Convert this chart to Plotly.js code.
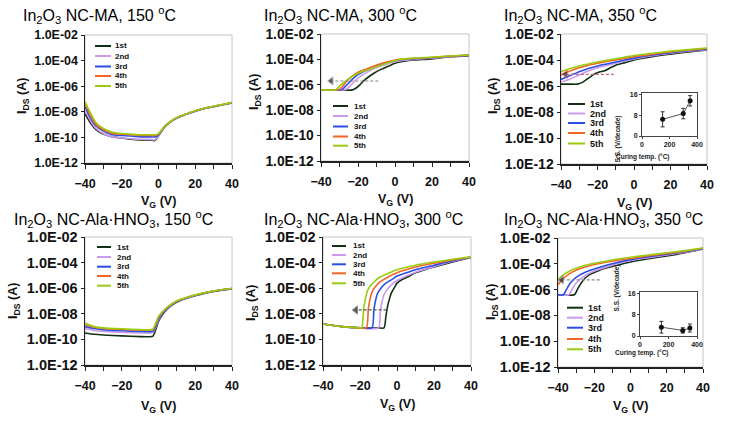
<!DOCTYPE html>
<html><head><meta charset="utf-8">
<script src="https://cdn.plot.ly/plotly-3.0.1.min.js"></script>
<style>html,body{margin:0;padding:0;background:#fff}#chart{width:732px;height:431px}</style>
</head><body><div id="chart"></div>
<script>
// ---------- DATA ----------
const seriesNames = ['1st','2nd','3rd','4th','5th'];
const seriesColors = ['#123012','#cc99ee','#2a4fe6','#f26522','#99cc11'];
const yTickVals = [1e-12,1e-10,1e-8,1e-6,1e-4,1e-2];
const yTickText = ['1.0E-12','1.0E-10','1.0E-08','1.0E-06','1.0E-04','1.0E-02'];
const xTickVals = [-40,-20,0,20,40];

// In2O3 NC-MA, 150 C
const ma150_vg = [-40,-37,-34,-30,-25,-20,-15,-10,-5,-2,0,3,6,10,15,20,25,30,35,40];
const ma150_ids = [
 [7.1e-9,1.3e-9,4e-10,1.8e-10,1.1e-10,8.9e-11,7.1e-11,6.3e-11,6.3e-11,5.6e-11,1.3e-10,5.6e-10,1.4e-9,3.2e-9,6.3e-9,1.1e-8,1.8e-8,2.5e-8,3.5e-8,5e-8],
 [1.3e-8,2e-9,5e-10,2e-10,1.1e-10,8.9e-11,7.9e-11,7.1e-11,7.1e-11,6.3e-11,1.3e-10,5.8e-10,1.45e-9,3.3e-9,6.4e-9,1.1e-8,1.8e-8,2.6e-8,3.6e-8,5.1e-8],
 [2.5e-8,3.2e-9,7.9e-10,3.2e-10,1.6e-10,1.4e-10,1.3e-10,1.1e-10,1.1e-10,1.1e-10,1.6e-10,6e-10,1.5e-9,3.4e-9,6.5e-9,1.15e-8,1.85e-8,2.6e-8,3.6e-8,5.2e-8],
 [4.5e-8,5e-9,1e-9,4e-10,2e-10,1.8e-10,1.6e-10,1.4e-10,1.4e-10,1.4e-10,1.8e-10,6.3e-10,1.55e-9,3.5e-9,6.6e-9,1.2e-8,1.9e-8,2.7e-8,3.7e-8,5.3e-8],
 [6.3e-8,7.9e-9,1.4e-9,5e-10,2.5e-10,2e-10,1.8e-10,1.6e-10,1.6e-10,1.6e-10,2e-10,6.5e-10,1.6e-9,3.6e-9,6.8e-9,1.2e-8,1.9e-8,2.7e-8,3.8e-8,5.4e-8]
];

// In2O3 NC-MA, 300 C
const ma300_vg = [
 [-40,-23,-21,-19,-17,-14,-11,-7,-3,0,5,10,20,30,40],
 [-40,-27,-25,-23,-21,-18,-15,-11,-6,-2,3,10,20,30,40],
 [-40,-29,-27,-25,-23,-20,-17,-13,-8,-3,2,10,20,30,40],
 [-40,-30.5,-28.5,-26.5,-24.5,-21.5,-18.5,-14,-9,-4,1,10,20,30,40],
 [-40,-32,-30,-27,-24,-20,-16,-11,-6,-2,2,10,20,30,40]
];
const ma300_ids = [
 [4e-7,4e-7,5.6e-7,1e-6,2e-6,4.5e-6,8.9e-6,1.8e-5,3.2e-5,5e-5,7.1e-5,8.9e-5,1.1e-4,1.6e-4,2e-4],
 [4e-7,4e-7,6.3e-7,1.26e-6,2.5e-6,5.6e-6,1e-5,2e-5,3.5e-5,5.6e-5,7.9e-5,1e-4,1.26e-4,1.66e-4,2.1e-4],
 [4e-7,4e-7,7.1e-7,1.4e-6,2.8e-6,6.3e-6,1.1e-5,2e-5,4e-5,6.3e-5,8.9e-5,1.1e-4,1.35e-4,1.74e-4,2.1e-4],
 [4e-7,4e-7,7.1e-7,1.6e-6,3.2e-6,7.1e-6,1.2e-5,2.1e-5,4e-5,6.6e-5,9.5e-5,1.2e-4,1.4e-4,1.8e-4,2.2e-4],
 [4e-7,4e-7,7.9e-7,1.8e-6,4e-6,7.9e-6,1.3e-5,2.4e-5,4.2e-5,6.6e-5,9.5e-5,1.26e-4,1.5e-4,1.86e-4,2.2e-4]
];

// In2O3 NC-MA, 350 C
const ma350_vg = [
 [-40,-35,-31,-28,-25,-22,-19,-16,-13,-10,-5,0,10,20,30,40],
 [-40,-35,-30,-25,-20,-15,-10,-5,0,10,20,30,40],
 [-40,-35,-30,-25,-20,-15,-10,-5,0,10,20,30,40],
 [-40,-35,-30,-25,-20,-15,-10,-5,0,10,20,30,40],
 [-40,-35,-30,-25,-20,-15,-10,-5,0,10,20,30,40]
];
const ma350_ids = [
 [1.4e-6,1.4e-6,1.4e-6,2e-6,4e-6,7.9e-6,1.2e-5,1.5e-5,2.5e-5,4e-5,6.3e-5,1e-4,1.8e-4,2.8e-4,4.2e-4,6e-4],
 [2e-6,3.5e-6,7.1e-6,1.4e-5,2.5e-5,3.8e-5,5.6e-5,8.3e-5,1.2e-4,2.1e-4,3.3e-4,4.8e-4,6.3e-4],
 [3.2e-6,6.3e-6,1.26e-5,2.2e-5,3.5e-5,5e-5,7.1e-5,1e-4,1.4e-4,2.4e-4,3.7e-4,5.2e-4,6.9e-4],
 [7.1e-6,1.4e-5,2.5e-5,4e-5,5.6e-5,7.6e-5,1e-4,1.35e-4,1.8e-4,2.8e-4,4.2e-4,5.8e-4,7.6e-4],
 [1.26e-5,2.2e-5,3.5e-5,5e-5,7.1e-5,9.3e-5,1.26e-4,1.66e-4,2.2e-4,3.3e-4,4.8e-4,6.3e-4,8.3e-4]
];

// In2O3 NC-Ala.HNO3, 150 C
const ala150_vg = [-40,-35,-30,-20,-10,-5,-3,0,2,5,10,15,20,30,40];
const ala150_ids = [
 [3.2e-10,2.5e-10,2.2e-10,1.9e-10,1.66e-10,1.6e-10,1.8e-10,2.5e-9,7.9e-9,2.5e-8,8.3e-8,1.6e-7,2.6e-7,5.6e-7,8.9e-7],
 [7.1e-10,5e-10,4.2e-10,3.5e-10,3.2e-10,3.2e-10,3.5e-10,3.2e-9,1e-8,2.8e-8,8.9e-8,1.66e-7,2.75e-7,5.8e-7,9.1e-7],
 [1e-9,7.1e-10,5.6e-10,4.7e-10,4.2e-10,4e-10,4.5e-10,4e-9,1.1e-8,3.2e-8,9.5e-8,1.7e-7,2.8e-7,5.9e-7,9.3e-7],
 [1.4e-9,8.9e-10,7.1e-10,6e-10,5.4e-10,5.2e-10,6e-10,5e-9,1.26e-8,3.4e-8,1e-7,1.8e-7,2.9e-7,6e-7,9.5e-7],
 [1.8e-9,1e-9,7.9e-10,6.6e-10,5.8e-10,5.5e-10,6.3e-10,6.3e-9,1.4e-8,3.5e-8,1.05e-7,1.8e-7,3e-7,6.2e-7,1e-6]
];

// In2O3 NC-Ala.HNO3, 300 C
const ala300_vg = [
 [-40,-30,-20,-10,-7,-6,-5,-4,-3,-1,0,3,6,10,15,20,30,40],
 [-40,-30,-20,-10,-9,-8,-7,-5,-3,0,5,10,20,30,40],
 [-40,-30,-20,-13.5,-12.5,-11.5,-10.5,-8.5,-6,-2,0,5,10,20,30,40],
 [-40,-30,-20,-16.5,-15.5,-14.5,-13.5,-11.5,-9,-5,0,10,20,30,40],
 [-40,-30,-20,-19,-18,-17,-16,-14,-12,-10,-5,0,10,20,30,40]
];
const ala300_ids = [
 [1.6e-9,1e-9,7.9e-10,7.9e-10,7.9e-10,6.3e-9,4.5e-8,1.6e-7,4.5e-7,1.4e-6,2.5e-6,5e-6,7.9e-6,1.6e-5,2.8e-5,4.5e-5,1.1e-4,2.5e-4],
 [1.6e-9,1e-9,7.9e-10,7.9e-10,1.6e-8,1e-7,3.2e-7,8.9e-7,1.8e-6,4e-6,8.9e-6,1.8e-5,5e-5,1.26e-4,2.5e-4],
 [1.6e-9,1e-9,7.9e-10,7.9e-10,2e-8,1.26e-7,4e-7,1.1e-6,2.5e-6,5.6e-6,8.9e-6,1.6e-5,2.8e-5,6.3e-5,1.4e-4,2.6e-4],
 [1.6e-9,1e-9,7.9e-10,7.9e-10,2.5e-8,1.6e-7,5e-7,1.4e-6,3.2e-6,7.1e-6,1.6e-5,4.5e-5,8.9e-5,1.6e-4,2.7e-4],
 [1.6e-9,1e-9,7.9e-10,7.9e-10,2.5e-8,1.6e-7,6.3e-7,1.8e-6,3.5e-6,6.3e-6,1.4e-5,2.8e-5,6.3e-5,1.1e-4,1.8e-4,2.8e-4]
];

// In2O3 NC-Ala.HNO3, 350 C
const ala350_vg = [
 [-40,-31,-29,-27,-25,-22,-18,-14,-10,0,10,20,30,40],
 [-40,-34,-32,-30,-27,-23,-18,-10,0,10,20,30,40],
 [-40,-37,-35,-33,-30,-25,-20,-10,0,10,20,30,40],
 [-40,-37,-34,-30,-25,-20,-10,0,10,20,30,40],
 [-40,-37,-34,-30,-25,-20,-10,0,10,20,30,40]
];
const ala350_ids = [
 [4e-7,4e-7,1.26e-6,3.5e-6,7.9e-6,1.6e-5,2.8e-5,4.5e-5,6.3e-5,1.4e-4,2.5e-4,4e-4,7.1e-4,1.4e-3],
 [4e-7,4e-7,1.26e-6,3.2e-6,7.9e-6,1.8e-5,3.5e-5,7.9e-5,1.8e-4,3e-4,4.8e-4,7.9e-4,1.45e-3],
 [4e-7,4e-7,1.26e-6,3.5e-6,8.9e-6,2.2e-5,4e-5,1e-4,2.1e-4,3.5e-4,5.5e-4,8.7e-4,1.5e-3],
 [2.5e-6,7.1e-6,1.6e-5,3.2e-5,5.6e-5,8.9e-5,1.6e-4,2.6e-4,4.2e-4,6.3e-4,9.5e-4,1.6e-3],
 [6.3e-6,1.4e-5,2.5e-5,4.5e-5,7.6e-5,1.1e-4,2e-4,3.2e-4,4.8e-4,7.1e-4,1.05e-3,1.66e-3]
];

// shift arrows (tail -> head) : VG values and current level
const arrowVg = [[-9,-34.5],[-11,-37.5],[-5.6,-22.3],[-17,-38]];
const arrowIds = [2e-6, 7.9e-6, 2e-8, 5.6e-6];

// insets: subthreshold swing vs curing temperature
const curingTemp = [150, 300, 350];
const ssMA = [6.4, 8.6, 13.5];
const ssMAerr = [2.9, 2.0, 2.0];
const ssAla = [3.3, 2.1, 3.0];
const ssAlaErr = [2.2, 1.0, 1.5];

// ---------- LAYOUT HELPERS ----------
const W = 732, H = 431;
const fx = p => p / W, fy = p => 1 - p / H;
const FONT = 'Liberation Sans, Arial, sans-serif';

const panels = [
 {dom:[85,232,35,163], ts:12.5, title:'In<sub>2</sub>O<sub>3</sub> NC-MA, 150 <sup>o</sup>C', tp:[21,15], yt:[23,96], xt:[158,202],
  leg:{x0:95,x1:111,tx:113,ys:[46,56,66.5,76,86],fs:8}, vg:ma150_vg, ids:ma150_ids, shared:true},
 {dom:[321,469,34,161], ts:13.8, title:'In<sub>2</sub>O<sub>3</sub> NC-MA, 300 <sup>o</sup>C', tp:[262,15], yt:[255,92], xt:[395,200],
  leg:{x0:333,x1:348,tx:352,ys:[106,116,126.5,136.5,145.7],fs:8}, vg:ma300_vg, ids:ma300_ids, arrow:0, ac:'#888'},
 {dom:[561,707,34,164], ts:14, title:'In<sub>2</sub>O<sub>3</sub> NC-MA, 350 <sup>o</sup>C', tp:[502,15], yt:[494,96], xt:[634,204],
  leg:{x0:568,x1:585,tx:588,ys:[104,113.5,123,133,143.5],fs:9}, vg:ma350_vg, ids:ma350_ids, arrow:1, ac:'#cc6680'},
 {dom:[85,232,237,365], ts:14.5, title:'In<sub>2</sub>O<sub>3</sub> NC-Ala·HNO<sub>3</sub>, 150 <sup>o</sup>C', tp:[12,219], yt:[14,301], xt:[158,407],
  leg:{x0:97,x1:111,tx:115,ys:[247,257,266.7,276,285.7],fs:8}, vg:ala150_vg, ids:ala150_ids, shared:true},
 {dom:[323,471,237,365], ts:14.5, title:'In<sub>2</sub>O<sub>3</sub> NC-Ala·HNO<sub>3</sub>, 300 <sup>o</sup>C', tp:[262,219], yt:[252,303], xt:[397,405],
  leg:{x0:332,x1:346,tx:351,ys:[246,255,264.3,273.3,283.3],fs:8}, vg:ala300_vg, ids:ala300_ids, arrow:2, ac:'#555'},
 {dom:[558,703,238,367], ts:14.5, title:'In<sub>2</sub>O<sub>3</sub> NC-Ala·HNO<sub>3</sub>, 350 <sup>o</sup>C', tp:[502,219], yt:[492,302], xt:[630,407],
  leg:{x0:567,x1:583,tx:586,ys:[307.7,317.7,327.7,339,349.3],fs:9}, vg:ala350_vg, ids:ala350_ids, arrow:3, ac:'#888'}
];

const traces = [], shapes = [], annotations = [];
const layout = {width:W, height:H, margin:{l:0,r:0,t:0,b:0}, paper_bgcolor:'#fff', plot_bgcolor:'rgba(0,0,0,0)',
  showlegend:false, font:{family:FONT, color:'#000'}};

panels.forEach((p, i) => {
  const n = i + 1, sfx = n === 1 ? '' : String(n);
  const xa = 'x' + sfx, ya = 'y' + sfx;
  layout['xaxis' + sfx] = {
    domain:[fx(p.dom[0]), fx(p.dom[1])], anchor:ya, range:[-40,40], fixedrange:true,
    showline:true, linecolor:'#222', linewidth:1.5, showgrid:false, zeroline:false,
    ticks:'outside', ticklen:4, tickcolor:'#222', tickvals:xTickVals, ticklabelstandoff:4,
    minor:{tickvals:[-30,-10,10,30], ticks:'outside', ticklen:4, tickcolor:'#222', showgrid:false},
    tickfont:{family:FONT, size:12.5, weight:'bold', color:'#111'}
  };
  layout['yaxis' + sfx] = {
    domain:[fy(p.dom[3]), fy(p.dom[2])], anchor:xa, type:'log', range:[-12,-2], fixedrange:true,
    showline:true, linecolor:'#222', linewidth:1.5, showgrid:false, zeroline:false,
    ticks:'outside', ticklen:3, tickcolor:'#222', tickvals:yTickVals, ticktext:yTickText,
    tickfont:{family:FONT, size:p.ts, weight:'bold', color:'#111'}
  };
  // light frame on top/right
  shapes.push({type:'rect', xref:xa + ' domain', yref:ya + ' domain', x0:0, x1:1, y0:0, y1:1,
    line:{color:'#c4c4c4', width:1}, layer:'below'});
  // curves
  for (let s = 0; s < 5; s++) {
    traces.push({type:'scatter', mode:'lines', xaxis:xa, yaxis:ya, name:seriesNames[s],
      x: p.shared ? p.vg : p.vg[s], y: p.ids[s],
      line:{color:seriesColors[s], width:1.6, shape:'spline', smoothing:0.6}, hoverinfo:'skip'});
  }
  // dashed shift arrow
  if (p.arrow !== undefined) {
    const a = p.arrow;
    traces.push({type:'scatter', mode:'lines+markers', xaxis:xa, yaxis:ya,
      x: arrowVg[a], y:[arrowIds[a], arrowIds[a]],
      line:{color:p.ac, width:1.2, dash:'3px,2px'},
      marker:{symbol:'triangle-left', size:[0,7], color:'#222'}, hoverinfo:'skip'});
  }
  // legend
  for (let s = 0; s < 5; s++) {
    const yy = fy(p.leg.ys[s]);
    shapes.push({type:'line', xref:'paper', yref:'paper', x0:fx(p.leg.x0), x1:fx(p.leg.x1), y0:yy, y1:yy,
      line:{color:seriesColors[s], width:2}});
    annotations.push({xref:'paper', yref:'paper', x:fx(p.leg.tx), y:yy, xanchor:'left', yanchor:'middle',
      text:seriesNames[s], showarrow:false, font:{family:FONT, size:p.leg.fs, weight:'bold', color:'#111'}});
  }
  // titles
  annotations.push({xref:'paper', yref:'paper', x:fx(p.tp[0]), y:fy(p.tp[1]), xanchor:'left', yanchor:'middle',
    text:p.title, showarrow:false, font:{family:FONT, size:16, color:'#000'}});
  annotations.push({xref:'paper', yref:'paper', x:fx(p.yt[0]), y:fy(p.yt[1]), xanchor:'center', yanchor:'middle',
    text:'I<sub>DS</sub> (A)', textangle:-90, showarrow:false, font:{family:FONT, size:12.5, weight:'bold', color:'#111'}});
  annotations.push({xref:'paper', yref:'paper', x:fx(p.xt[0]), y:fy(p.xt[1]), xanchor:'center', yanchor:'middle',
    text:'V<sub>G</sub> (V)', showarrow:false, font:{family:FONT, size:12.5, weight:'bold', color:'#111'}});
});

// insets
const insets = [
 {dom:[642,697,93,136], ss:ssMA, err:ssMAerr, yt:[623,114], xt:[672,157]},
 {dom:[640,697,292,336], ss:ssAla, err:ssAlaErr, yt:[622,314], xt:[671,358.5]}
];
insets.forEach((q, j) => {
  const n = 7 + j, xa = 'x' + n, ya = 'y' + n;
  layout['xaxis' + n] = {domain:[fx(q.dom[0]), fx(q.dom[1])], anchor:ya, range:[0,400], fixedrange:true,
    showline:true, mirror:true, linecolor:'#444', linewidth:1, showgrid:false, zeroline:false,
    ticks:'outside', ticklen:2, tickcolor:'#444', tickvals:[0,200,400],
    tickfont:{family:FONT, size:7, weight:'bold', color:'#222'}};
  layout['yaxis' + n] = {domain:[fy(q.dom[3]), fy(q.dom[2])], anchor:xa, range:[0,16.5], fixedrange:true,
    showline:true, mirror:true, linecolor:'#444', linewidth:1, showgrid:false, zeroline:false,
    ticks:'outside', ticklen:2, tickcolor:'#444', tickvals:[0,8,16],
    tickfont:{family:FONT, size:7, weight:'bold', color:'#222'}};
  traces.push({type:'scatter', mode:'lines+markers', xaxis:xa, yaxis:ya, x:curingTemp, y:q.ss,
    line:{color:'#555', width:1}, marker:{color:'#111', size:5},
    error_y:{type:'data', array:q.err, visible:true, color:'#333', thickness:1, width:2}, hoverinfo:'skip'});
  shapes.push({type:'rect', xref:'paper', yref:'paper', x0:fx(q.dom[0]), x1:fx(q.dom[1]), y0:fy(q.dom[3]), y1:fy(q.dom[2]),
    fillcolor:'#fff', line:{width:0}, layer:'below'});
  annotations.push({xref:'paper', yref:'paper', x:fx(q.yt[0]), y:fy(q.yt[1]), textangle:-90, showarrow:false,
    text:'S.S. (V/decade)', font:{family:FONT, size:6.5, weight:'bold', color:'#222'}});
  annotations.push({xref:'paper', yref:'paper', x:fx(q.xt[0]), y:fy(q.xt[1]), showarrow:false,
    text:'Curing temp. (°C)', font:{family:FONT, size:6.5, weight:'bold', color:'#222'}});
});

layout.shapes = shapes;
layout.annotations = annotations;
Plotly.newPlot('chart', traces, layout, {staticPlot:true, displayModeBar:false});
</script>
</body></html>
